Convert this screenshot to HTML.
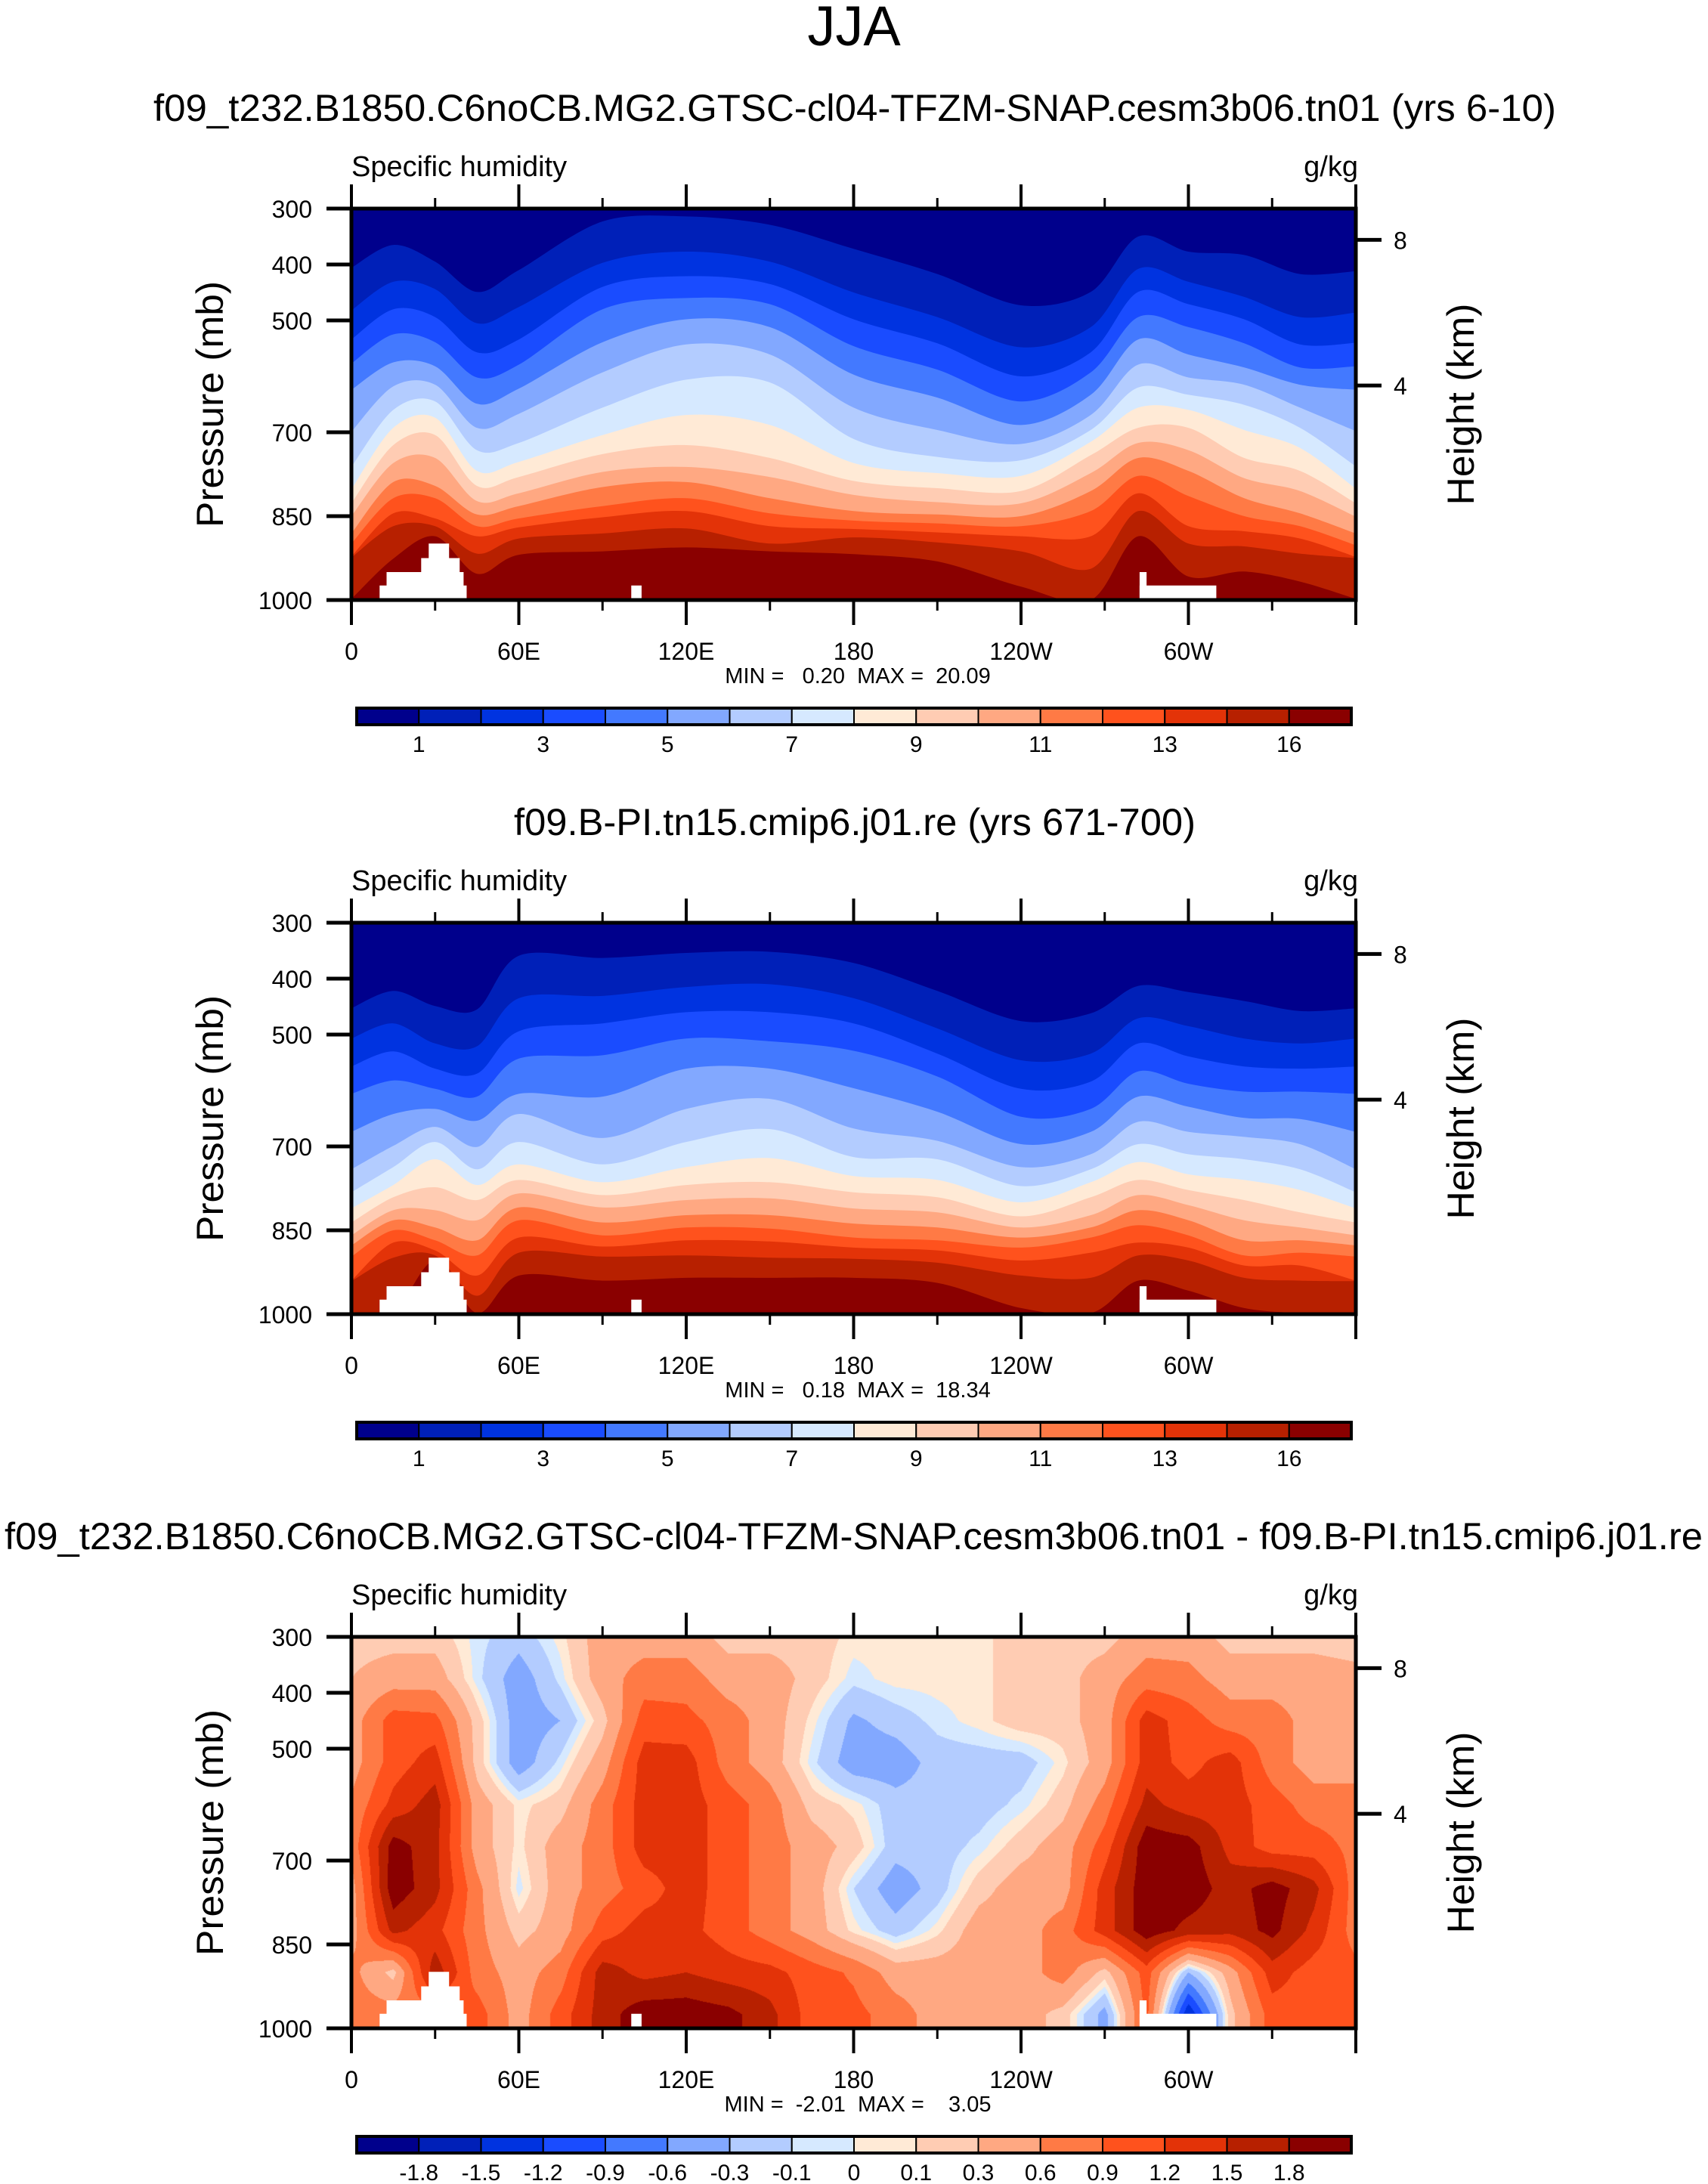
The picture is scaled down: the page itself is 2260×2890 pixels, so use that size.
<!DOCTYPE html>
<html>
<head>
<meta charset="utf-8">
<style>
  html,body{margin:0;padding:0;background:#fff;}
  #wrap{position:relative;width:2260px;height:2890px;overflow:hidden;}
  #diffCanvas{position:absolute;left:465px;top:2166px;}
  svg{position:absolute;left:0;top:0;}
  text{font-family:"Liberation Sans",Arial,sans-serif;fill:#000;}
</style>
</head>
<body>
<div id="wrap">
<canvas id="diffCanvas" width="1329" height="518"></canvas>
<svg id="fig" width="2260" height="2890" xmlns="http://www.w3.org/2000/svg">
  <text x="1130" y="60" font-size="74" text-anchor="middle">JJA</text>
  <text x="203" y="160" font-size="50" textLength="1856" lengthAdjust="spacingAndGlyphs">f09_t232.B1850.C6noCB.MG2.GTSC-cl04-TFZM-SNAP.cesm3b06.tn01 (yrs 6-10)</text>
  <text x="1131" y="1105" font-size="50" text-anchor="middle" textLength="902" lengthAdjust="spacingAndGlyphs">f09.B-PI.tn15.cmip6.j01.re (yrs 671-700)</text>
  <text x="6" y="2050" font-size="50" textLength="2247" lengthAdjust="spacingAndGlyphs">f09_t232.B1850.C6noCB.MG2.GTSC-cl04-TFZM-SNAP.cesm3b06.tn01 - f09.B-PI.tn15.cmip6.j01.re</text>
</svg>
</div>
<script>
// ---------- data ----------
const colors = ["#00008c","#0020b8","#0033e0","#1a4cff","#4379ff","#82a8ff","#b3ccff","#d6e9ff","#ffead6","#ffccb3","#ffa882","#ff7a45","#ff521d","#e33308","#b72000","#8a0000"];
const sampleLons = [0,15,30,45,60,90,120,150,180,210,240,265,282,300,320,340,360];
// pressure (mb) where each of the 15 contour levels is crossed, one profile per sampled longitude
const panel1Crossings = [
  [406,482,534,577,624,699,762,802,827,850,881,899,922,924,998],
  [365,431,480,525,575,618,660,692,723,755,789,818,845,868,926],
  [395,444,494,539,582,615,645,674,705,746,796,818,854,868,886],
  [449,505,557,602,649,692,732,769,796,823,847,868,886,917,953],
  [410,476,534,579,622,667,719,753,780,809,832,854,870,890,919],
  [323,397,440,480,539,593,656,705,739,771,798,832,852,881,913],
  [314,377,421,460,498,543,606,669,723,762,789,818,841,872,906],
  [329,395,435,471,512,561,611,687,746,780,818,845,868,899,913],
  [372,450,498,546,597,656,712,755,787,812,841,858,873,888,918],
  [417,494,541,588,638,696,744,773,800,825,847,863,879,897,931],
  [473,548,600,645,687,721,750,778,805,827,850,868,886,913,976],
  [449,512,557,593,633,669,696,717,741,773,805,841,886,944,1003],
  [350,408,449,494,534,579,620,656,692,719,746,778,809,841,886],
  [377,431,471,512,561,602,633,660,692,732,769,814,868,899,958],
  [383,458,498,541,584,615,651,696,746,782,818,850,877,904,949],
  [417,494,543,584,615,656,692,728,769,805,845,868,890,917,967],
  [412,486,540,582,624,698,761,801,827,851,881,902,923,925,998]
];
const panel2Crossings = [
  [453,507,557,606,674,741,782,811,836,859,877,897,940,941,998],
  [422,480,530,582,642,699,737,769,791,814,832,850,872,899,998],
  [449,516,561,597,633,665,692,723,773,814,845,868,886,895,904],
  [455,521,570,611,654,701,741,769,796,832,868,895,931,967,998],
  [359,435,494,543,606,642,692,732,760,784,809,832,863,890,931],
  [363,431,480,537,611,685,732,764,787,809,836,859,879,897,940],
  [354,415,460,507,561,633,692,737,769,796,823,845,868,895,935],
  [352,410,460,512,561,615,669,721,764,793,823,847,870,899,935],
  [372,435,480,529,596,668,719,753,782,811,838,863,881,901,935],
  [422,489,534,575,638,690,723,760,791,818,845,868,886,908,944],
  [476,546,597,647,696,737,771,800,825,845,863,881,904,931,989],
  [462,534,584,633,674,714,741,764,791,823,845,863,890,935,998],
  [413,471,516,566,611,656,696,728,760,787,814,841,872,895,940],
  [424,485,539,588,629,674,714,750,778,805,832,859,881,904,958],
  [440,507,557,602,649,683,723,760,796,832,868,895,913,935,989],
  [458,516,561,602,651,696,741,778,818,845,868,890,913,940,998],
  [453,507,557,606,674,741,782,811,836,859,877,897,940,941,998]
];
const cbLabels1 = ["1","3","5","7","9","11","13","16"];
const cbLabels3 = ["-1.8","-1.5","-1.2","-0.9","-0.6","-0.3","-0.1","0","0.1","0.3","0.6","0.9","1.2","1.5","1.8"];
const diffLevels = [-1.8,-1.5,-1.2,-0.9,-0.6,-0.3,-0.1,0,0.1,0.3,0.6,0.9,1.2,1.5,1.8];
const diffLons = [0,15,30,45,60,75,90,105,120,135,150,165,180,195,210,225,240,255,270,285,300,315,330,345,360];
const diffPres = [300,375,450,525,600,675,750,825,900,975];
const diffGrid = [
  [0.2,0.2,0.2,-0.05,-0.2,0.05,0.45,0.45,0.45,0.2,0.2,0.2,0.05, 0.05,0.05,0.05,0.2,0.2,0.2,0.45,0.45,0.2,0.2,0.2,0.15],
  [0.3,0.45,0.45,-0.05,-0.45,-0.05,0.45,0.75,0.75,0.45,0.45,0.2,-0.05, 0.05,0.05,0.05,0.2,0.2,0.45,0.75,0.7,0.45,0.45,0.45,0.4],
  [0.45,1.05,1.0,0.2,-0.45,-0.3,0.2,1.05,1.0,0.75,0.45,0.05,-0.35, -0.2,-0.05,0.05,0.2,0.2,0.45,1.35,1.05,0.75,0.75,0.45,0.45],
  [0.45,1.05,1.35,0.2,-0.45,-0.05,0.45,1.35,1.35,0.75,0.45,-0.05,-0.45, -0.45,-0.2,-0.2,-0.2,0.05,0.45,1.35,1.1,1.35,0.75,0.45,0.45],
  [0.65,1.3,1.65,0.45,0.05,0.2,0.75,1.35,1.35,1.05,0.75,0.2,0.05, -0.2,-0.2,-0.2,-0.05,0.2,0.75,1.6,1.35,1.35,1.05,0.75,0.75],
  [0.7,1.95,1.6,0.45,0.05,0.45,0.75,1.35,1.35,1.05,0.75,0.45,0.2, -0.2,-0.2,-0.05,0.2,0.45,1.05,2.0,1.95,1.4,1.05,1.05,0.8],
  [0.45,2.0,1.6,0.7,-0.05,0.45,0.75,1.05,1.35,1.05,0.75,0.45,-0.1, -0.45,-0.2,0.2,0.45,0.45,1.35,2.0,2.0,1.65,1.95,1.6,0.75],
  [0.45,1.6,1.3,0.7,0.2,0.45,1.05,1.35,1.3,1.05,0.75,0.45,0.05, -0.2,0.05,0.45,0.45,0.75,1.35,2.0,1.7,1.6,1.9,1.4,0.75],
  [0.7,0.2,1.7,0.75,0.45,0.75,1.65,1.4,1.5,1.35,1.3,1.05,0.85, 0.45,0.45,0.45,0.45,0.75,0.2,1.05,-0.3,0.45,1.35,1.05,1.0],
  [0.75,0.75,0.75,1.05,0.45,1.05,1.65,2.0,2.0,1.9,1.6,1.05,1.0, 0.75,0.45,0.45,0.45,0.2,-0.4,1.0,-1.5,0.2,1.05,1.05,1.0]
];
const maskLon0 = [10.1,12.6,25,27.7,100.3,282.5,282.5];
const maskLon1 = [41.3,40.2,38.8,35,104,310,285];
const maskTop = [974,950,925,899,974,974,950];
const majorLons = [0,60,120,180,240,300,360];
const minorLons = [30,90,150,210,270,330];
const xTickLabels = ["0","60E","120E","180","120W","60W"];
const pTicks = [300,400,500,700,850,1000];
const pTickLabels = ["300","400","500","700","850","1000"];
const heightTicks = [8,4];
const minMaxText = ["MIN =   0.20  MAX =  20.09","MIN =   0.18  MAX =  18.34","MIN =  -2.01  MAX =    3.05"];

// ---------- layout ----------
const NS = "http://www.w3.org/2000/svg";
const svg = document.getElementById("fig");
const X0 = 465, Y0 = 276, PW = 1329, PH = 518;
const panelDy = [0, 945, 1890];
function xs(lon){ return X0 + lon/360*PW; }
function ys(p, dy){ return Y0 + dy + (p-300)/700*PH; }
function zToP(km){ return 1013.25*Math.pow(1-2.25577e-5*km*1000, 5.2559); }
function mk(tag, attrs, parent){
  const e = document.createElementNS(NS, tag);
  for (const k in attrs) e.setAttribute(k, attrs[k]);
  (parent||svg).appendChild(e);
  return e;
}
function smoothPath(pts){
  let d = "M" + pts[0][0].toFixed(1) + "," + pts[0][1].toFixed(1);
  for (let i=0;i<pts.length-1;i++){
    const p0 = pts[Math.max(0,i-1)], p1 = pts[i], p2 = pts[i+1], p3 = pts[Math.min(pts.length-1,i+2)];
    const t = 0.16;
    const c1x = p1[0] + (p2[0]-p0[0])*t, c1y = p1[1] + (p2[1]-p0[1])*t;
    const c2x = p2[0] - (p3[0]-p1[0])*t, c2y = p2[1] - (p3[1]-p1[1])*t;
    d += " C" + c1x.toFixed(1)+","+c1y.toFixed(1)+" "+c2x.toFixed(1)+","+c2y.toFixed(1)+" "+p2[0].toFixed(1)+","+p2[1].toFixed(1);
  }
  return d;
}

function drawContours(dy, crossings, g, idx){
  const cid = "clip" + idx;
  const cp = mk("clipPath",{id:cid},g);
  mk("rect",{x:X0,y:Y0+dy,width:PW,height:PH},cp);
  const gg = mk("g",{"clip-path":"url(#"+cid+")"},g);
  
  
  const bg = mk("rect",{x:X0,y:Y0+dy,width:PW,height:PH,fill:colors[0]},gg);
  
  
  for (let k=0;k<15;k++){
    const pts = sampleLons.map((l,i)=> [xs(l), ys(Math.min(1000,crossings[i][k]),dy)]);
    const d = smoothPath(pts) + " L" + xs(360) + "," + (ys(1000,dy)+5) + " L" + xs(0) + "," + (ys(1000,dy)+5) + " Z";
    const poly = mk("path",{d:d,fill:colors[k+1]},gg);
    
    
  }
}

function drawMask(dy, g){
  for (let i=0;i<maskLon0.length;i++){
    const r = mk("rect",{x:xs(maskLon0[i]),y:ys(maskTop[i],dy),width:xs(maskLon1[i])-xs(maskLon0[i]),height:ys(1000,dy)-ys(maskTop[i],dy),fill:"#fff"},g);
    
    
  }
}

function drawAxes(dy, idx, g){
  const frame = mk("rect",{x:X0,y:Y0+dy,width:PW,height:PH,fill:"none",stroke:"#000","stroke-width":5},g);
  
  
  majorLons.forEach(l=>{
    const t1 = mk("line",{x1:xs(l),x2:xs(l),y1:Y0+dy,y2:Y0+dy-32,stroke:"#000","stroke-width":4},g);
    
    
    const t2 = mk("line",{x1:xs(l),x2:xs(l),y1:Y0+dy+PH,y2:Y0+dy+PH+33,stroke:"#000","stroke-width":4},g);
    
    
  });
  minorLons.forEach(l=>{
    const t1 = mk("line",{x1:xs(l),x2:xs(l),y1:Y0+dy,y2:Y0+dy-14,stroke:"#000","stroke-width":3},g);
    
    
    const t2 = mk("line",{x1:xs(l),x2:xs(l),y1:Y0+dy+PH,y2:Y0+dy+PH+14,stroke:"#000","stroke-width":3},g);
    
    
  });
  xTickLabels.forEach((s,i)=>{
    const t = mk("text",{x:xs(majorLons[i]),y:Y0+dy+PH+79,"font-size":32,"text-anchor":"middle"},g);
    t.textContent = s;
    
    
  });
  pTicks.forEach((p,i)=>{
    const t = mk("line",{x1:X0-33,x2:X0,y1:ys(p,dy),y2:ys(p,dy),stroke:"#000","stroke-width":5},g);
    
    
    const lb = mk("text",{x:X0-52,y:ys(p,dy)+12,"font-size":32,"text-anchor":"end"},g);
    lb.textContent = pTickLabels[i];
    
    
  });
  heightTicks.forEach(h=>{
    const y = ys(zToP(h),dy);
    const t = mk("line",{x1:X0+PW,x2:X0+PW+34,y1:y,y2:y,stroke:"#000","stroke-width":5},g);
    
    
    const lb = mk("text",{x:X0+PW+50,y:y+12,"font-size":32},g);
    lb.textContent = String(h);
    
    
  });
  const yt = mk("text",{x:0,y:0,"font-size":50,"text-anchor":"middle",textLength:326,lengthAdjust:"spacingAndGlyphs",transform:"translate(295,"+(Y0+dy+PH/2)+") rotate(-90)"},g);
  yt.textContent = "Pressure (mb)";
  
  
  const rt = mk("text",{x:0,y:0,"font-size":50,"text-anchor":"middle",textLength:267,lengthAdjust:"spacingAndGlyphs",transform:"translate(1950,"+(Y0+dy+PH/2)+") rotate(-90)"},g);
  rt.textContent = "Height (km)";
  
  
  const lt = mk("text",{x:X0,y:Y0+dy-43,"font-size":38},g);
  lt.textContent = "Specific humidity";
  
  
  const ut = mk("text",{x:X0+PW+3,y:Y0+dy-43,"font-size":38,"text-anchor":"end"},g);
  ut.textContent = "g/kg";
  
  
  const mm = mk("text",{x:1135,y:Y0+dy+PH+110,"font-size":29,"text-anchor":"middle","xml:space":"preserve"},g);
  mm.setAttribute("style","white-space:pre");
  mm.textContent = minMaxText[idx];
  
  
}

function drawColorbar(dy, labels, step, g){
  const cx0 = 472, cx1 = 1788, cy = 937+dy, ch = 22;
  const bw = (cx1-cx0)/16;
  for (let i=0;i<16;i++){
    const r = mk("rect",{x:cx0+i*bw,y:cy,width:bw,height:ch,fill:colors[i],stroke:"#000","stroke-width":2},g);
    
    
  }
  const b = mk("rect",{x:cx0,y:cy,width:cx1-cx0,height:ch,fill:"none",stroke:"#000","stroke-width":4},g);
  
  
  labels.forEach((s,i)=>{
    const t = mk("text",{x:cx0+(i*step+1)*bw,y:cy+58,"font-size":30,"text-anchor":"middle"},g);
    t.textContent = s;
    
    
  });
}

// panels 1 & 2
[panel1Crossings, panel2Crossings].forEach((cr,i)=>{
  const g = mk("g",{});
  
  
  drawContours(panelDy[i], cr, g, i);
  drawMask(panelDy[i], g);
  drawAxes(panelDy[i], i, g);
  drawColorbar(panelDy[i], cbLabels1, 2, g);
});

// panel 3 (difference) on canvas
(function(){
  const cv = document.getElementById("diffCanvas");
  const ctx = cv.getContext("2d");
  const img = ctx.createImageData(PW, PH);
  const rgb = colors.map(c=>[parseInt(c.substr(1,2),16),parseInt(c.substr(3,2),16),parseInt(c.substr(5,2),16)]);
  for (let y=0;y<PH;y++){
    const p = 300 + (y+0.5)/PH*700;
    let r = 0; while (r < diffPres.length-2 && p > diffPres[r+1]) r++;
    let fy = (p-diffPres[r])/(diffPres[r+1]-diffPres[r]); fy = Math.max(0,Math.min(1,fy));
    for (let x=0;x<PW;x++){
      const lon = (x+0.5)/PW*360;
      let c = Math.min(diffLons.length-2, Math.floor(lon/15));
      const fx = (lon-diffLons[c])/15;
      const v = (1-fy)*((1-fx)*diffGrid[r][c]+fx*diffGrid[r][c+1]) + fy*((1-fx)*diffGrid[r+1][c]+fx*diffGrid[r+1][c+1]);
      let k = 0; while (k < diffLevels.length && v >= diffLevels[k]) k++;
      const o = (y*PW+x)*4;
      img.data[o]=rgb[k][0]; img.data[o+1]=rgb[k][1]; img.data[o+2]=rgb[k][2]; img.data[o+3]=255;
    }
  }
  ctx.putImageData(img,0,0);
  const g = mk("g",{});
  
  
  drawMask(panelDy[2], g);
  drawAxes(panelDy[2], 2, g);
  drawColorbar(panelDy[2], cbLabels3, 1, g);
})();
</script>
</body>
</html>
